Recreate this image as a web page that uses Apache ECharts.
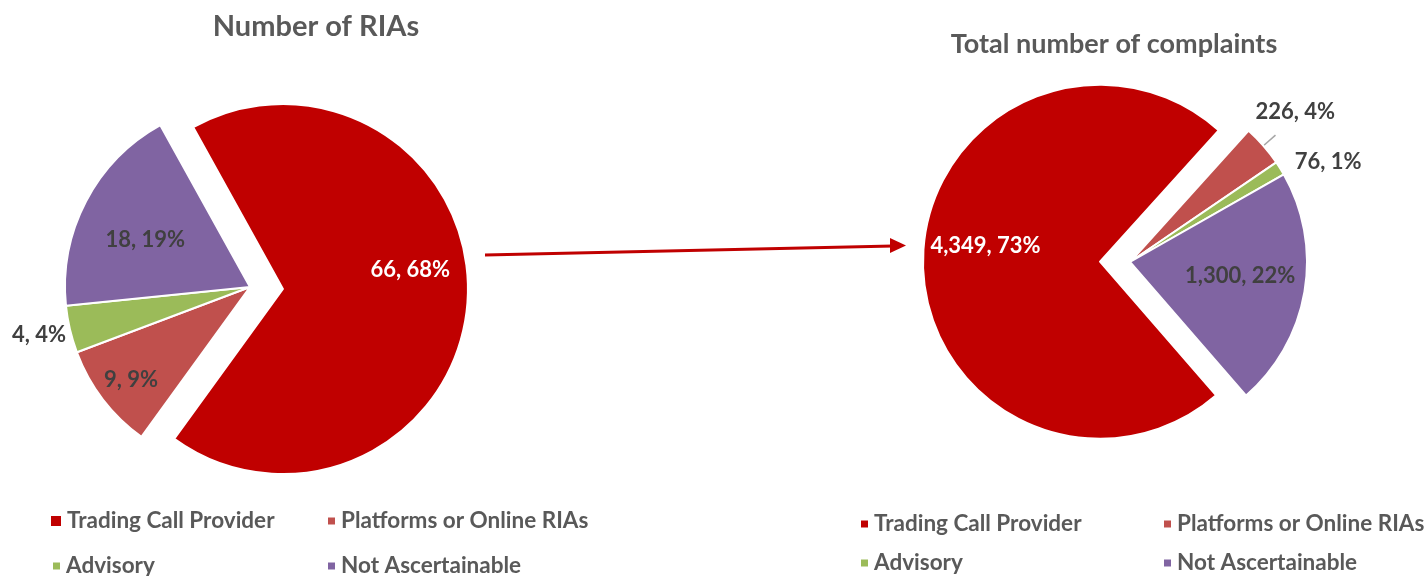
<!DOCTYPE html>
<html>
<head>
<meta charset="utf-8">
<script src="https://cdn.jsdelivr.net/npm/echarts@6/dist/echarts.min.js"></script>
<style>
  html, body { margin: 0; padding: 0; background: #fff; }
  #chart { width: 1426px; height: 576px; }
</style>
</head>
<body>
<div id="chart"></div>
<script>
  // categories and values
  let categories = ['Trading Call Provider', 'Platforms or Online RIAs', 'Advisory', 'Not Ascertainable'];
  let colors = ['#C00000', '#C0504D', '#9BBB59', '#8064A2'];
  let riaCounts = [66, 9, 4, 18];
  let complaintCounts = [4349, 226, 76, 1300];

  let myChart = echarts.init(document.getElementById('chart'));
  let font = 'Lato, "Open Sans", sans-serif';

  function fmt(p) {
    return p.value.toLocaleString('en-US') + ', ' + Math.round(p.percent) + '%';
  }

  // per-slice label tweaks (Excel puts labels at different spots)
  let riaLabels = [
    { color: '#fff', offset: [32, -25] },
    { offset: [-43, 35] },
    { position: 'outside', offset: [7, 4] },
    { offset: [-20, -3] }
  ];
  let complaintLabels = [
    { color: '#fff', offset: [-23, -15] },
    { position: 'outside', offset: [-25, -23] },
    { position: 'outside', offset: [-4, 2] },
    { offset: [20, -1] }
  ];

  function buildData(values, labels) {
    return values.map(function (v, i) {
      let d = {
        name: categories[i],
        value: v,
        selected: i === 0,
        itemStyle: { color: colors[i] },
        label: labels[i]
      };
      // the exploded slice uses its select-state label
      if (i === 0) d.select = { label: labels[i], itemStyle: { color: colors[i] } };
      return d;
    });
  }

  let labelBase = {
    show: true,
    position: 'inside',
    formatter: fmt,
    color: '#404040',
    fontFamily: font,
    fontWeight: 'bold',
    fontSize: 22
  };

  // one legend per entry so the 2x2 grid sits exactly like the original
  function legendItem(name, left, centerY, size) {
    return {
      data: [name],
      left: left,
      top: centerY - 12,
      padding: 0,
      itemWidth: size,
      itemHeight: size,
      itemGap: 6,
      icon: 'rect',
      selectedMode: false,
      textStyle: { color: '#595959', fontFamily: font, fontWeight: 'bold', fontSize: 22.5, lineHeight: 24 }
    };
  }

  let option = {
    animation: false,
    title: [
      {
        text: 'Number of RIAs',
        left: 311,
        top: 7,
        textAlign: 'center',
        textStyle: { color: '#595959', fontFamily: font, fontWeight: 'bold', fontSize: 29 }
      },
      {
        text: 'Total number of complaints',
        left: 1109,
        top: 26,
        textAlign: 'center',
        textStyle: { color: '#595959', fontFamily: font, fontWeight: 'bold', fontSize: 27 }
      }
    ],
    legend: [
      legendItem(categories[0], 49, 521, 12),
      legendItem(categories[1], 326, 521, 9),
      legendItem(categories[2], 51, 566, 9),
      legendItem(categories[3], 326, 566, 9),
      legendItem(categories[0], 859, 524, 9),
      legendItem(categories[1], 1162, 524, 9),
      legendItem(categories[2], 859, 563, 9),
      legendItem(categories[3], 1162, 563, 9)
    ],
    series: [
      {
        name: 'Number of RIAs',
        type: 'pie',
        center: [250, 287],
        radius: 185,
        startAngle: 119,
        selectedMode: 'single',
        selectedOffset: 33,
        avoidLabelOverlap: false,
        emphasis: { scale: false },
        itemStyle: { borderColor: '#fff', borderWidth: 2 },
        label: labelBase,
        labelLine: { show: false, length: 6, length2: 0 },
        data: buildData(riaCounts, riaLabels)
      },
      {
        name: 'Total number of complaints',
        type: 'pie',
        center: [1130, 262],
        radius: 177,
        startAngle: -49,
        selectedMode: 'single',
        selectedOffset: 30,
        avoidLabelOverlap: false,
        emphasis: { scale: false },
        itemStyle: { borderColor: '#fff', borderWidth: 2 },
        label: labelBase,
        labelLine: { show: false, length: 16, length2: 0, lineStyle: { color: '#A6A6A6', width: 1.5 } },
        data: buildData(complaintCounts, complaintLabels).map(function (d, i) {
          if (i === 1) d.labelLine = { show: true };
          return d;
        })
      }
    ],
    graphic: [
      {
        type: 'line',
        shape: { x1: 485, y1: 255, x2: 893, y2: 246 },
        style: { stroke: '#C00000', lineWidth: 3 }
      },
      {
        type: 'polygon',
        shape: { points: [[890, 238], [906, 245.5], [890, 253]] },
        style: { fill: '#C00000' }
      }
    ]
  };
  myChart.setOption(option);

  window.addEventListener('resize', function () {
    myChart.resize();
  });
</script>
</body>
</html>
